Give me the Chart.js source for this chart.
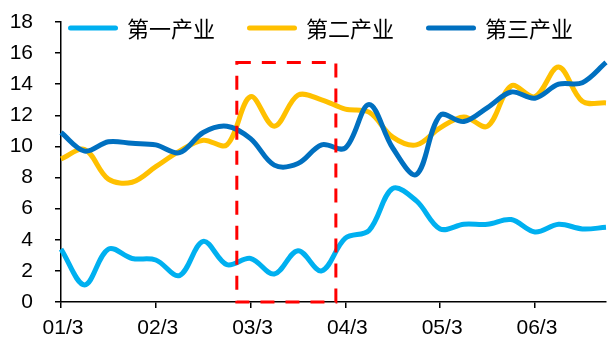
<!DOCTYPE html>
<html>
<head>
<meta charset="utf-8">
<script src="https://cdn.jsdelivr.net/npm/chart.js@4.4.0/dist/chart.umd.min.js"></script>
<style>
  html, body { margin: 0; padding: 0; background: #fff; }
  #chart { display: block; }
</style>
</head>
<body>
<canvas id="chart" width="614" height="339"></canvas>
<script>
// weekly readings, one axis label every four weeks
const tickLabels = ['01/3', '02/3', '03/3', '04/3', '05/3', '06/3'];
const weeksPerTick = 4;
const seriesNames = ['第一产业', '第二产业', '第三产业'];
const primary   = [3.4, 1.1, 3.4, 2.8, 2.7, 1.7, 3.9, 2.4, 2.8, 1.8, 3.3, 2.0, 4.1, 4.6, 7.3, 6.5, 4.7, 5.0, 5.0, 5.3, 4.5, 5.0, 4.7, 4.8];
const secondary = [9.2, 9.8, 7.9, 7.7, 8.7, 9.7, 10.4, 10.1, 13.2, 11.3, 13.3, 13.0, 12.4, 12.2, 10.6, 10.1, 11.2, 11.9, 11.3, 13.9, 13.2, 15.1, 12.9, 12.8];
const tertiary  = [10.9, 9.7, 10.3, 10.2, 10.1, 9.6, 10.9, 11.3, 10.5, 8.8, 8.9, 10.1, 9.9, 12.7, 9.9, 8.2, 12.0, 11.6, 12.5, 13.5, 13.1, 14.0, 14.1, 15.4];

// highlighted window: x in week index, y in value units
const boxX = [7.42, 11.6];
const boxY = [0, 15.4];

const categories = primary.map((v, i) => i % weeksPerTick === 0 ? tickLabels[i / weeksPerTick] : '');

Chart.defaults.font.family = '"Liberation Sans", Arial, sans-serif';
Chart.defaults.color = '#000';

// legend sits inside the plot, over the empty top band
const lineLegend = {
  id: 'lineLegend',
  afterDraw(chart) {
    const ctx = chart.ctx;
    let x = 68;
    const y = 28;
    ctx.save();
    ctx.font = '22px "Noto Sans CJK SC"';
    ctx.textBaseline = 'middle';
    chart.data.datasets.forEach(ds => {
      ctx.strokeStyle = ds.borderColor;
      ctx.lineWidth = 5;
      ctx.lineCap = 'round';
      ctx.beginPath();
      ctx.moveTo(x + 2.5, y);
      ctx.lineTo(x + 47.5, y);
      ctx.stroke();
      ctx.fillStyle = '#000';
      ctx.fillText(ds.label, x + 59, y + 1);
      x += 59 + ctx.measureText(ds.label).width + 32;
    });
    ctx.restore();
  }
};

// red dashed frame around the highlighted weeks
const dashBox = {
  id: 'dashBox',
  afterDatasetsDraw(chart) {
    const { ctx, scales: { x, y } } = chart;
    const l = x.getPixelForValue(boxX[0]), r = x.getPixelForValue(boxX[1]);
    const t = y.getPixelForValue(boxY[1]), b = y.getPixelForValue(boxY[0]);
    ctx.save();
    ctx.strokeStyle = '#FF0000';
    ctx.lineWidth = 3;
    ctx.setLineDash([14, 11]);
    ctx.strokeRect(l, t, r - l, b - t);
    ctx.restore();
  }
};

const ctx = document.getElementById('chart');
new Chart(ctx, {
  type: 'line',
  data: {
    labels: categories,
    datasets: [
      { label: seriesNames[0], data: primary,   borderColor: '#00B0F0', order: 2 },
      { label: seriesNames[1], data: secondary, borderColor: '#FFC000', order: 1 },
      { label: seriesNames[2], data: tertiary,  borderColor: '#0070C0', order: 0 }
    ]
  },
  options: {
    responsive: false,
    animation: false,
    layout: { padding: { top: 22, right: 3, left: 0, bottom: 0 } },
    elements: {
      line: { borderWidth: 5, tension: 0.35, fill: false },
      point: { radius: 0, hoverRadius: 0 }
    },
    plugins: {
      legend: { display: false },
      tooltip: { enabled: false }
    },
    scales: {
      x: {
        offset: false,
        border: { color: '#000', width: 1.5 },
        grid: {
          drawOnChartArea: false,
          tickLength: 6,
          lineWidth: 1.5,
          color: c => (c.tick && c.tick.label) ? '#000' : 'rgba(0,0,0,0)'
        },
        ticks: {
          autoSkip: false,
          maxRotation: 0,
          padding: 8,
          labelOffset: 2,
          font: { size: 21 }
        },
        afterFit: s => { s.height = 37; }
      },
      y: {
        min: 0,
        max: 18,
        border: { color: '#000', width: 1.5 },
        grid: { drawOnChartArea: false, tickLength: 6, lineWidth: 1.5, color: '#000' },
        ticks: { stepSize: 2, padding: 22, font: { size: 21 } },
        // the label gap should not push the plot down
        afterFit: s => { s.width = 61; s.paddingTop = 0; s.paddingBottom = 0; }
      }
    }
  },
  plugins: [dashBox, lineLegend]
});
</script>
</body>
</html>
